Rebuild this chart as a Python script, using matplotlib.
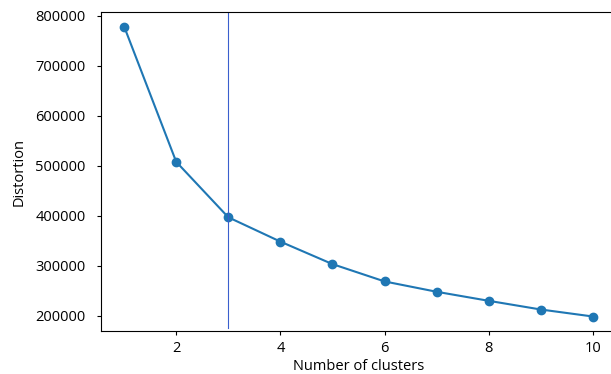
import matplotlib
matplotlib.use("Agg")
import matplotlib.pyplot as plt

clusters = [1, 2, 3, 4, 5, 6, 7, 8, 9, 10]
distortions = [778500, 507600, 396600, 347900, 302900, 268200, 247500, 229400, 212000, 198000]
elbow_k = 3

plt.rcParams['font.family'] = ['Open Sans', 'DejaVu Sans']
plt.rcParams['font.size'] = 10.5
fig = plt.figure(figsize=(6.11, 3.74), dpi=100)
ax = fig.add_axes([100.7/611, 43/374, 515.6/611, 319/374])
ax.plot(clusters, distortions, marker='o', color='#1f77b4')
ax.axvline(elbow_k, ymin=0.01, ymax=1, color='#3a5fcd', linewidth=0.8)
ax.tick_params(length=3)
ax.tick_params(axis='y', pad=8)
ax.tick_params(axis='x', pad=4)
ax.set_xlabel('Number of clusters', labelpad=2)
ax.set_ylabel('Distortion', labelpad=6)
fig.savefig('out.png', dpi=100)
